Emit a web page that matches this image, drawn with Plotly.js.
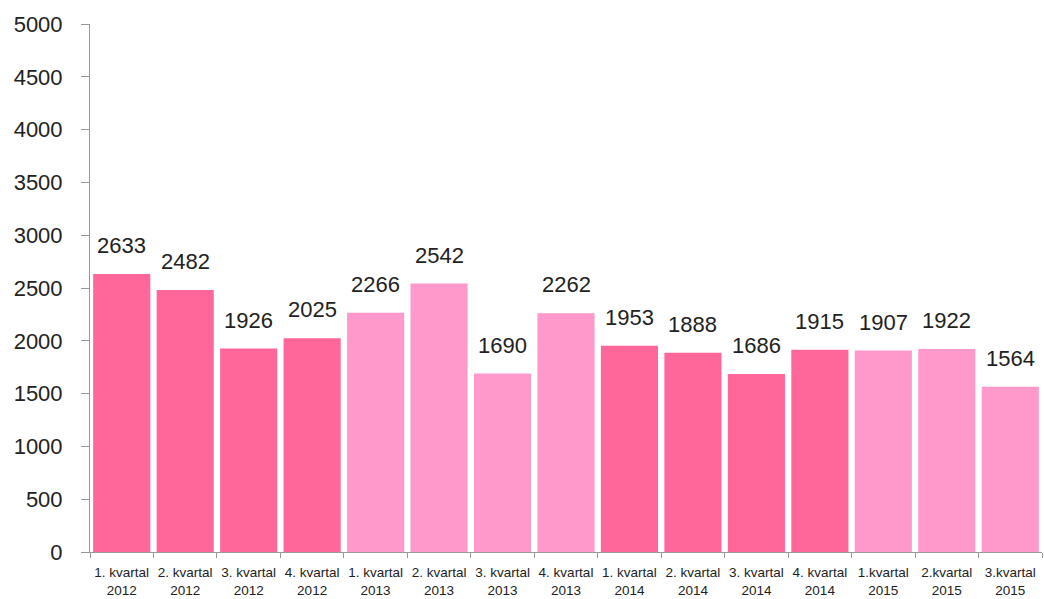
<!DOCTYPE html>
<html><head><meta charset="utf-8">
<script src="https://cdn.plot.ly/plotly-3.0.1.min.js"></script>
<style>html,body{margin:0;padding:0;background:#fff}#c{width:1044px;height:599px}</style>
</head><body><div id="c"></div>
<script>
const categories = ["1. kvartal<br>2012","2. kvartal<br>2012","3. kvartal<br>2012","4. kvartal<br>2012",
  "1. kvartal<br>2013","2. kvartal<br>2013","3. kvartal<br>2013","4. kvartal<br>2013",
  "1. kvartal<br>2014","2. kvartal<br>2014","3. kvartal<br>2014","4. kvartal<br>2014",
  "1.kvartal<br>2015","2.kvartal<br>2015","3.kvartal<br>2015"];
const values = [2633,2482,1926,2025,2266,2542,1690,2262,1953,1888,1686,1915,1907,1922,1564];
const years = [2012,2012,2012,2012,2013,2013,2013,2013,2014,2014,2014,2014,2015,2015,2015];
const yearColors = {2012:"#FF6699",2013:"#FF99CC",2014:"#FF6699",2015:"#FF99CC"};
const colors = years.map(y => yearColors[y]);
const annotations = categories.map((c,i) => ({
  x:c, y:values[i], xref:"x", yref:"y", text:String(values[i]), showarrow:false,
  yanchor:"bottom", yshift:14, font:{family:"Liberation Sans, Arial, sans-serif", size:22, color:"#222"}
}));
Plotly.newPlot("c", [{
  type:"bar", x:categories, y:values, marker:{color:colors}, hoverinfo:"skip"
}], {
  width:1044, height:599,
  margin:{l:90, r:2, t:24, b:47},
  paper_bgcolor:"#fff", plot_bgcolor:"#fff",
  bargap:0.1, showlegend:false, annotations:annotations,
  font:{family:"Liberation Sans, Arial, sans-serif", color:"#222"},
  xaxis:{type:"category", showline:true, linecolor:"#999", linewidth:1,
    ticks:"outside", tickson:"boundaries", ticklen:5, tickcolor:"#999",
    tickfont:{size:13.5, color:"#222"}, showgrid:false, tickangle:0, ticklabelstandoff:8},
  yaxis:{range:[0,5000], dtick:500, showline:true, linecolor:"#999", linewidth:1,
    ticks:"outside", ticklen:8, tickcolor:"#999", showgrid:false, zeroline:false,
    tickfont:{size:22, color:"#222"}, ticklabelstandoff:14}
}, {displayModeBar:false, staticPlot:true});
</script></body></html>
